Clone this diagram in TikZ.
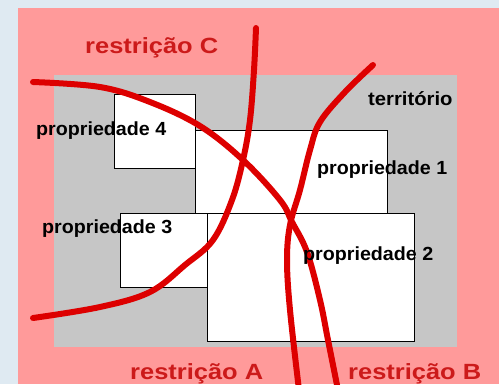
\documentclass[tikz,border=0pt]{standalone}
\usepackage{fontspec}
\setmainfont{Liberation Sans}
\definecolor{bgblue}{HTML}{DFEAF2}
\definecolor{pinkbg}{HTML}{FF9A9A}
\definecolor{terr}{HTML}{C6C6C6}
\definecolor{curvered}{HTML}{DD0000}
\definecolor{labred}{HTML}{CC1A1A}
\tikzset{
  prop/.style={draw=black, line width=1pt, fill=white},
  plabel/.style={anchor=base west, inner sep=0pt, font=\fontsize{19}{19}\selectfont\bfseries, xscale=1.035},
  rlabel/.style={anchor=base west, inner sep=0pt, text=labred, font=\fontsize{22}{22}\selectfont\bfseries, xscale=1.157},
  restr/.style={draw=curvered, line width=6pt, line cap=round, line join=round}
}
\begin{document}
\begin{tikzpicture}[x=1pt,y=-1pt]
\useasboundingbox (0,0) rectangle (499,384);
\begin{scope}
\clip (0,0) rectangle (499,384);
\fill[bgblue] (0,0) rectangle (499,384);
\fill[pinkbg] (18,8) rectangle (499,384);
\fill[terr] (54,75) rectangle (457,347);
% properties
\draw[prop] (114,94) rectangle (195,168);
\draw[prop] (195,130) rectangle (387,213);
\draw[prop] (120,213) rectangle (207,287);
\draw[prop] (207,213) rectangle (414,341);
% restrictions
\draw[restr] plot[smooth, tension=0.6] coordinates {(33,82) (100,87) (150,102) (200,126) (243,160) (280,200) (292,222) (307,252) (320,300) (328,340) (338,390)};
\draw[restr] plot[smooth, tension=0.6] coordinates {(256,28) (254,70) (250,120) (243,160) (232,200) (213,240) (185,265) (150,292) (100,307) (33,318)};
\draw[restr] plot[smooth, tension=0.6] coordinates {(373,65) (345,92) (320,122) (310,150) (300,190) (290,225) (287,260) (290,310) (299,390)};
\end{scope}
% labels
\node[plabel] (p4) at (36,135) {propriedade 4};
\node[plabel] (p1) at (317,174) {propriedade 1};
\node[plabel] (p3) at (42,233) {propriedade 3};
\node[plabel] (p2) at (303,260) {propriedade 2};
\node[plabel, xscale=1.03] (terr) at (368,105) {território};
\node[rlabel] (rc) at (85,53) {restrição C};
\node[rlabel] (ra) at (130,379) {restrição A};
\node[rlabel] (rb) at (348,379) {restrição B};
\end{tikzpicture}
\end{document}
